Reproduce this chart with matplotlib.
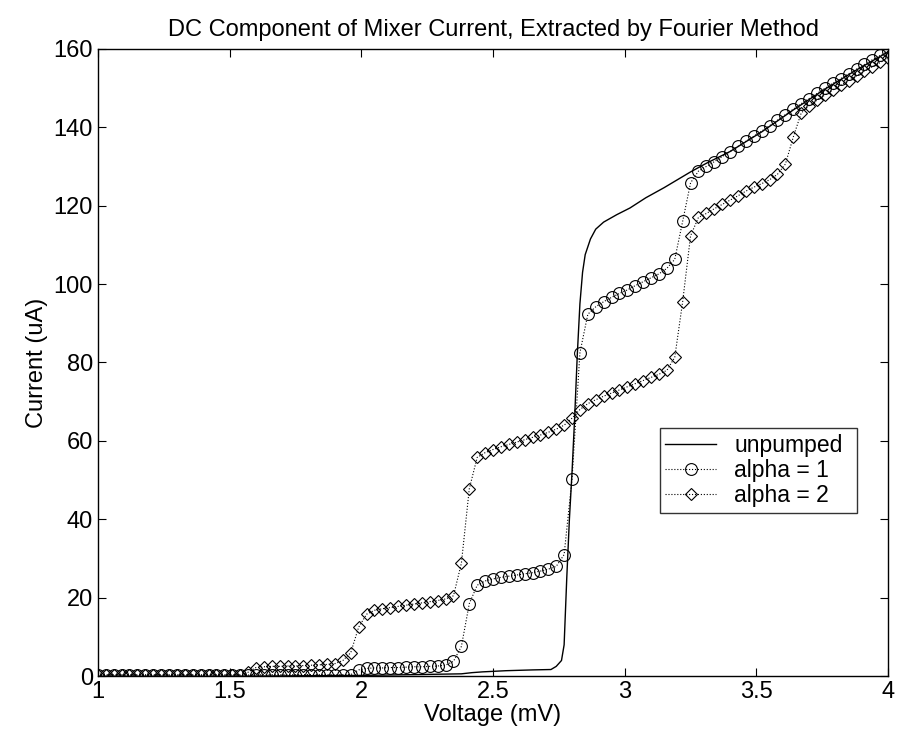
"""
DC component of mixer current vs bias voltage (Fourier method),
unpumped curve plus two pumped curves.
"""
import matplotlib
matplotlib.use('Agg')
import matplotlib.pyplot as plt

plt.rcParams['font.family'] = ['Liberation Sans', 'DejaVu Sans']

# bias grid used for the pumped curves (mV), step 0.03
voltage = [round(1 + 0.03 * k, 2) for k in range(101)]

# alpha = 1 (circles)
current_alpha1 = [
    0.3, 0.3, 0.3, 0.3, 0.3, 0.3, 0.3, 0.3, 0.3, 0.3,
    0.3, 0.3, 0.3, 0.3, 0.3, 0.3, 0.3, 0.3, 0.3, 0.3,
    0.3, 0.4, 0.4, 0.4, 0.4, 0.4, 0.4, 0.4, 0.4, 0.4,
    0.4, 0.4, 0.4, 1.6, 2.0, 2.1, 2.1, 2.2, 2.2, 2.3,
    2.4, 2.4, 2.5, 2.6, 2.8, 3.8, 7.6, 18.5, 23.2, 24.3,
    24.8, 25.2, 25.5, 25.8, 26.1, 26.4, 26.8, 27.3, 28.0, 31.0,
    50.3, 82.5, 92.3, 94.2, 95.5, 96.6, 97.6, 98.5, 99.6, 100.6,
    101.6, 102.6, 104.0, 106.3, 116.0, 125.8, 128.8, 130.0, 131.2, 132.5,
    133.8, 135.1, 136.4, 137.7, 139.0, 140.4, 141.8, 143.2, 144.6, 146.0,
    147.3, 148.6, 149.9, 151.2, 152.4, 153.6, 154.8, 156.0, 157.2, 158.3,
    159.4,
]

# alpha = 2 (diamonds)
current_alpha2 = [
    0.3, 0.3, 0.3, 0.3, 0.3, 0.3, 0.3, 0.3, 0.3, 0.3,
    0.3, 0.3, 0.3, 0.3, 0.3, 0.3, 0.3, 0.3, 0.3, 1.0,
    2.2, 2.4, 2.5, 2.5, 2.6, 2.6, 2.7, 2.8, 2.9, 3.0,
    3.2, 4.0, 6.0, 12.5, 15.8, 16.8, 17.2, 17.5, 17.8, 18.1,
    18.4, 18.7, 19.0, 19.3, 19.7, 20.5, 28.8, 47.8, 55.8, 57.0,
    57.8, 58.5, 59.1, 59.7, 60.3, 60.9, 61.5, 62.2, 63.0, 64.0,
    65.8, 68.0, 69.5, 70.5, 71.4, 72.2, 73.0, 73.8, 74.6, 75.4,
    76.2, 77.0, 78.0, 81.3, 95.5, 112.3, 117.0, 118.0, 119.2, 120.3,
    121.4, 122.5, 123.7, 124.7, 125.6, 126.6, 128.0, 130.6, 137.5, 143.6,
    145.5, 146.9, 148.2, 149.5, 150.7, 151.9, 153.1, 154.3, 155.4, 156.5,
    157.6,
]

# unpumped curve (solid line), read at irregular voltages
unpumped_v = [1.0, 1.5, 2.0, 2.2, 2.38, 2.42, 2.46, 2.55, 2.65, 2.72,
              2.74, 2.76, 2.77, 2.78, 2.79, 2.80, 2.81, 2.82, 2.83, 2.84,
              2.85, 2.87, 2.89, 2.92, 2.97, 3.02, 3.08, 3.15, 3.20, 3.25,
              3.31, 3.40, 3.52, 3.64, 3.76, 3.88, 4.0]
unpumped_i = [0.0, 0.0, 0.2, 0.4, 0.6, 0.9, 1.1, 1.4, 1.6, 1.7,
              2.5, 4.0, 8.0, 25.0, 40.0, 52.0, 66.0, 82.0, 95.0, 103.0,
              107.5, 111.5, 114.0, 115.8, 117.7, 119.4, 122.0, 124.6, 126.6, 128.6,
              130.8, 133.8, 138.8, 144.4, 149.7, 154.6, 159.2]

fig = plt.figure(figsize=(8.98, 7.39), dpi=100)
ax = fig.add_axes([0.109, 0.085, 0.880, 0.849])

ax.plot(unpumped_v, unpumped_i, '-', color='black', linewidth=1.0, label='unpumped')
ax.plot(voltage, current_alpha1, ':', color='black', linewidth=0.8, marker='o',
        markersize=8.5, markerfacecolor='none', markeredgecolor='black',
        markeredgewidth=0.8, label='alpha = 1')
ax.plot(voltage, current_alpha2, ':', color='black', linewidth=0.8, marker='D',
        markersize=6.5, markerfacecolor='none', markeredgecolor='black',
        markeredgewidth=0.8, label='alpha = 2')

ax.set_xlim(1, 4)
ax.set_ylim(0, 160)
ax.set_xticks([1, 1.5, 2, 2.5, 3, 3.5, 4])
ax.set_xticklabels(['1', '1.5', '2', '2.5', '3', '3.5', '4'])
ax.set_yticks(range(0, 161, 20))
ax.tick_params(direction='in', length=6, top=True, right=True, labelsize=17)
for side in ax.spines.values():
    side.set_linewidth(1.0)

ax.set_xlabel('Voltage (mV)', fontsize=17, labelpad=1)
ax.set_ylabel('Current (uA)', fontsize=17, labelpad=4)
ax.set_title('DC Component of Mixer Current, Extracted by Fourier Method',
             fontsize=17, pad=9)

leg = ax.legend(loc='lower left', bbox_to_anchor=(0.711, 0.26, 0.25, 0.116),
                mode='expand', fontsize=16.5, frameon=True, fancybox=False,
                edgecolor='black', borderpad=0.25, labelspacing=0.1,
                handlelength=2.2, numpoints=1, borderaxespad=0)
leg.get_frame().set_linewidth(1.0)

plt.savefig('out.png', dpi=100)
